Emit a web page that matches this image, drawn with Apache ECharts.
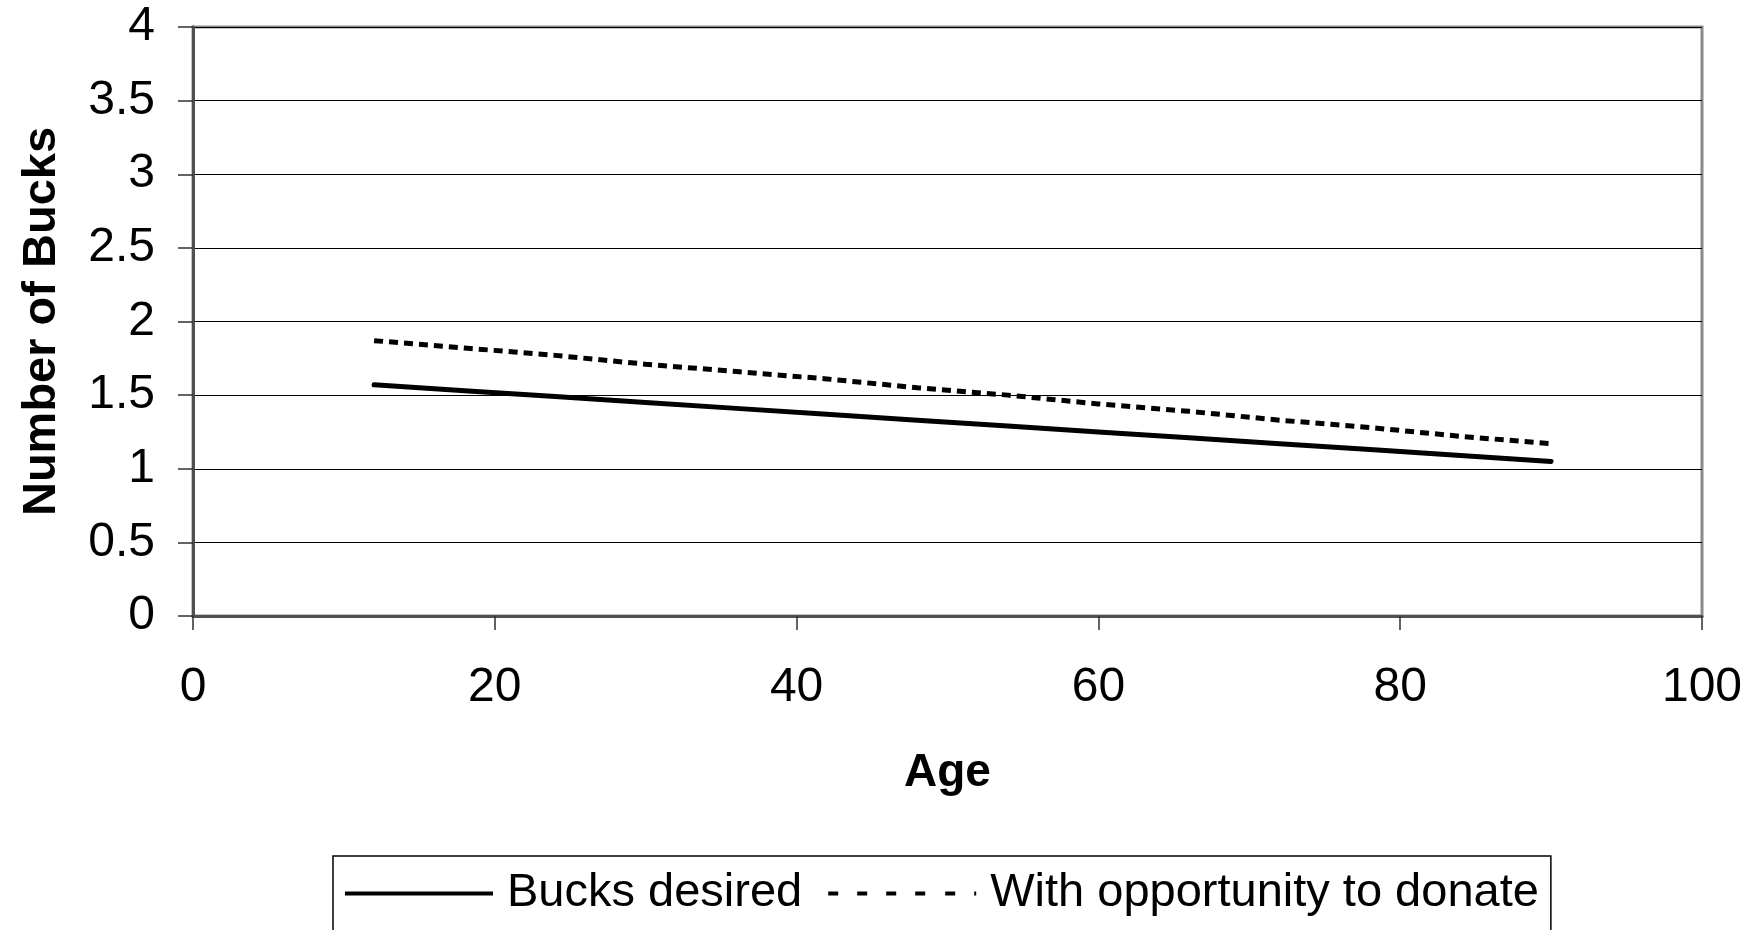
<!DOCTYPE html>
<html>
<head>
<meta charset="utf-8">
<script src="https://cdn.jsdelivr.net/npm/echarts@6/dist/echarts.min.js"></script>
<style>
html,body{margin:0;padding:0;background:#fff;}
#chart{width:1763px;height:930px;}
</style>
</head>
<body>
<div id="chart"></div>
<script>
const ages = [12, 18, 24, 30, 36, 42, 48, 54, 60, 66, 72, 78, 84, 90];
const bucksDesired = [1.57, 1.53, 1.49, 1.45, 1.41, 1.37, 1.33, 1.29, 1.25, 1.21, 1.17, 1.13, 1.09, 1.05];
const withDonate = [1.87, 1.82, 1.77, 1.71, 1.66, 1.61, 1.55, 1.50, 1.44, 1.39, 1.33, 1.28, 1.22, 1.17];
const seriesNames = ['Bucks desired', 'With opportunity to donate'];
const xTitle = 'Age';
const yTitle = 'Number of Bucks';

const FONT = '"Liberation Sans", Arial, Helvetica, sans-serif';
const chart = echarts.init(document.getElementById('chart'), null, {renderer: 'canvas'});
const pairs = arr => ages.map((a, i) => [a, arr[i]]);

const solidIcon = 'path://M0,0H148V4H0Z';
const dashIcon = 'path://M0,0H10V4H0Z M29,0H39V4H29Z M58,0H68V4H58Z M87,0H97V4H87Z M117,0H127V4H117Z M146,0H148V4H146Z';

chart.setOption({
  animation: false,
  backgroundColor: '#fff',
  textStyle: {fontFamily: FONT},
  grid: {
    left: 193, right: 61, top: 27, bottom: 314,
    show: true, borderColor: '#8a8a8a', borderWidth: 3, backgroundColor: '#fff'
  },
  xAxis: {
    type: 'value', min: 0, max: 100, interval: 20,
    name: xTitle, nameLocation: 'middle', nameGap: 134,
    nameTextStyle: {fontFamily: FONT, fontSize: 46, fontWeight: 'bold', color: '#000'},
    axisLine: {show: true, lineStyle: {color: '#505050', width: 3}},
    axisTick: {show: true, inside: false, length: 14, lineStyle: {color: '#303030', width: 1.5}},
    axisLabel: {fontFamily: FONT, fontSize: 48, color: '#000', margin: 48},
    splitLine: {show: false}
  },
  yAxis: {
    type: 'value', min: 0, max: 4, interval: 0.5,
    name: yTitle, nameLocation: 'middle', nameGap: 127, nameRotate: 90,
    nameTextStyle: {fontFamily: FONT, fontSize: 47, fontWeight: 'bold', color: '#000'},
    axisLine: {show: true, lineStyle: {color: '#505050', width: 3}},
    axisTick: {show: true, inside: false, length: 15, lineStyle: {color: '#303030', width: 1.5}},
    axisLabel: {fontFamily: FONT, fontSize: 48, color: '#000', margin: 38},
    splitLine: {show: true, lineStyle: {color: '#000', width: 1.2}}
  },
  legend: {
    left: 333, top: 856,
    padding: [14, 12, 60, 12],
    borderColor: '#000', borderWidth: 1.5,
    itemWidth: 148, itemHeight: 4, itemGap: 26,
    textStyle: {fontFamily: FONT, fontSize: 47, color: '#000', padding: [0, 0, 0, 9]},
    data: [
      {name: seriesNames[0], icon: solidIcon},
      {name: seriesNames[1], icon: dashIcon}
    ]
  },
  series: [
    {
      name: seriesNames[0], type: 'line', data: pairs(bucksDesired),
      symbol: 'none', smooth: false,
      lineStyle: {color: '#000', width: 5, type: 'solid', cap: 'round'},
      itemStyle: {color: '#000'}
    },
    {
      name: seriesNames[1], type: 'line', data: pairs(withDonate),
      symbol: 'none', smooth: false,
      lineStyle: {color: '#000', width: 5, type: [9, 6]},
      itemStyle: {color: '#000'}
    }
  ]
});
</script>
</body>
</html>
